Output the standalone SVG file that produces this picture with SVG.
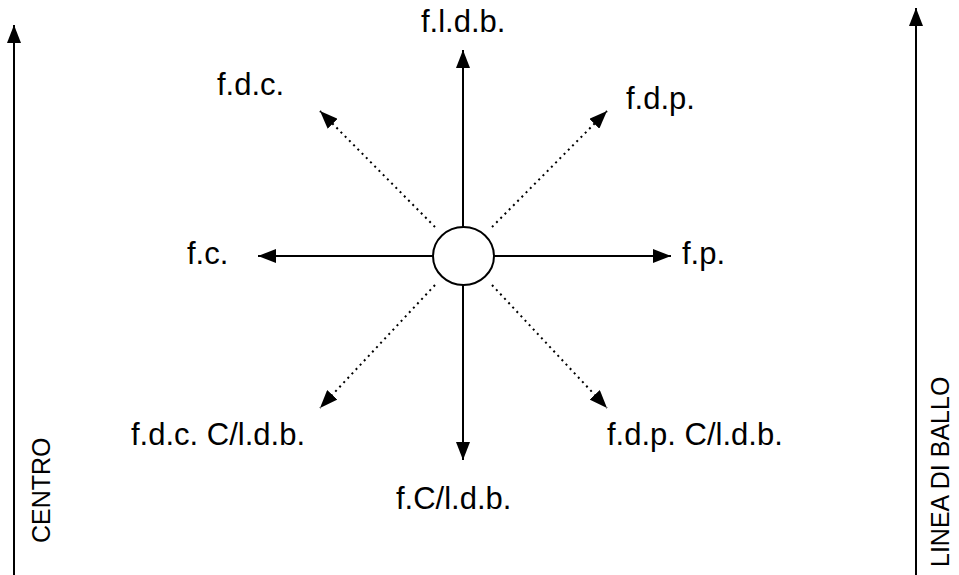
<svg xmlns="http://www.w3.org/2000/svg" width="959" height="575" viewBox="0 0 959 575">
<style>
text{font-family:"Liberation Sans",Arial,sans-serif;fill:#000}
.lbl{font-size:31px}
.side{font-size:25px}
.solid{stroke:#000;stroke-width:2;fill:none}
.dot{stroke:#000;stroke-width:2;fill:none;stroke-dasharray:2 4}
</style>
<defs>
<marker id="ah" viewBox="0 0 18 14" markerWidth="18" markerHeight="14" refX="18" refY="7" orient="auto" markerUnits="userSpaceOnUse">
<path d="M0,0 L18,7 L0,14 z" fill="#000"/>
</marker>
</defs>
<g id="connectors">
<line class="solid" x1="14" y1="575" x2="14" y2="25" marker-end="url(#ah)"/>
<line class="solid" x1="916" y1="575" x2="916" y2="8" marker-end="url(#ah)"/>
<line class="solid" x1="463" y1="227" x2="463" y2="50" marker-end="url(#ah)"/>
<line class="solid" x1="463" y1="285" x2="463" y2="460" marker-end="url(#ah)"/>
<line class="solid" x1="433" y1="256" x2="258" y2="256" marker-end="url(#ah)"/>
<line class="solid" x1="494" y1="256" x2="671" y2="256" marker-end="url(#ah)"/>
<line class="dot" x1="435" y1="227" x2="320" y2="111" marker-end="url(#ah)"/>
<line class="dot" x1="492" y1="227" x2="607" y2="111" marker-end="url(#ah)"/>
<line class="dot" x1="435" y1="285" x2="320" y2="408" marker-end="url(#ah)"/>
<line class="dot" x1="492" y1="285" x2="607" y2="408" marker-end="url(#ah)"/>
</g>
<g id="center">
<ellipse cx="463.5" cy="256" rx="30.5" ry="29" fill="#fff" stroke="#000" stroke-width="2"/>
</g>
<g id="fldb"><text class="lbl" x="421" y="32">f.l.d.b.</text></g>
<g id="fdc"><text class="lbl" x="217" y="95">f.d.c.</text></g>
<g id="fdp"><text class="lbl" x="626" y="109">f.d.p.</text></g>
<g id="fc"><text class="lbl" x="187" y="264">f.c.</text></g>
<g id="fp"><text class="lbl" x="682" y="264">f.p.</text></g>
<g id="fdc-cldb"><text class="lbl" x="131" y="445">f.d.c. C/l.d.b.</text></g>
<g id="fdp-cldb"><text class="lbl" x="607" y="445">f.d.p. C/l.d.b.</text></g>
<g id="fcldb"><text class="lbl" x="396" y="509">f.C/l.d.b.</text></g>
<g id="centro"><text class="side" x="50" y="543" transform="rotate(-90 50 543)">CENTRO</text></g>
<g id="linea"><text class="side" x="949" y="567" transform="rotate(-90 949 567)">LINEA DI BALLO</text></g>
</svg>
